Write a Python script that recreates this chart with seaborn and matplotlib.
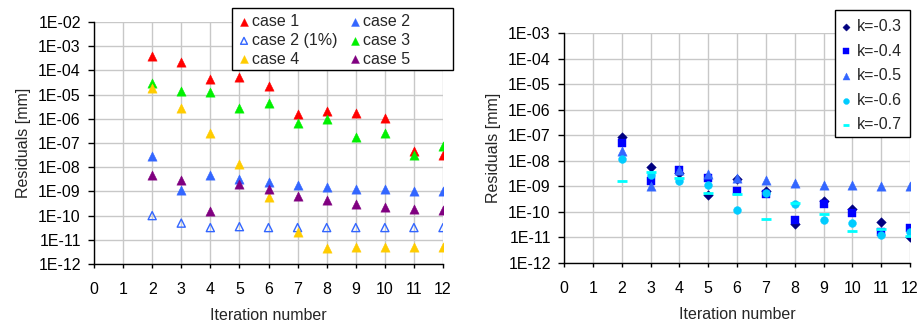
import numpy as np
import pandas as pd
import matplotlib
matplotlib.use("Agg")
import matplotlib.pyplot as plt
import seaborn as sns
from matplotlib.patches import Rectangle
from matplotlib.ticker import FixedLocator, FuncFormatter, NullLocator

# ---------------- data ----------------
iters = list(range(2, 13))

case1 = [4.1e-4, 2.2e-4, 4.4e-5, 5.2e-5, 2.2e-5, 1.6e-6, 2.2e-6, 1.8e-6, 1.1e-6, 4.5e-8, 3.3e-8]
case2 = [2.8e-8, 1.1e-9, 4.6e-9, 3.2e-9, 2.4e-9, 1.8e-9, 1.5e-9, 1.3e-9, 1.2e-9, 1.07e-9, 1.07e-9]
case2_1pct = [1.0e-10, 4.9e-11, 3.2e-11, 3.5e-11, 3.2e-11, 3.2e-11, 3.2e-11, 3.2e-11, 3.2e-11, 3.2e-11, 3.2e-11]
case3 = [3.0e-5, 1.35e-5, 1.23e-5, 2.8e-6, 4.5e-6, 6.8e-7, 1.0e-6, 1.85e-7, 2.6e-7, 3.3e-8, 7.2e-8]
case4 = [1.9e-5, 2.8e-6, 2.6e-7, 1.35e-8, 5.9e-10, 2.2e-11, 4.6e-12, 5e-12, 5e-12, 5e-12, 5e-12]
case5 = [4.6e-9, 3.0e-9, 1.6e-10, 2.0e-9, 1.2e-9, 6.6e-10, 4.3e-10, 3.0e-10, 2.2e-10, 1.9e-10, 1.75e-10]

k03 = [8.3e-8, 5.9e-9, 3.3e-9, 4.6e-10, 1.9e-9, 6.8e-10, 3.4e-11, 2.7e-10, 1.25e-10, 3.9e-11, 1.0e-11]
k04 = [5.1e-8, 1.65e-9, 4.4e-9, 2.2e-9, 6.3e-10, 4.8e-10, 5.0e-11, 2.1e-10, 8.7e-11, 1.7e-11, 2.3e-11]
k05 = [2.5e-8, 1.05e-9, 4.2e-9, 3.0e-9, 2.2e-9, 1.7e-9, 1.3e-9, 1.1e-9, 1.1e-9, 1.03e-9, 1.03e-9]
k06 = [1.15e-8, 2.9e-9, 1.6e-9, 1.1e-9, 1.2e-10, 5.6e-10, 2.1e-10, 4.9e-11, 3.8e-11, 1.3e-11, 1.7e-11]
k07 = [1.65e-9, 3.8e-9, 2.1e-9, 5.5e-10, 5.0e-10, 5.1e-11, 2.2e-10, 8.6e-11, 1.8e-11, 2.1e-11, 1.1e-11]

x_ticks = list(range(0, 13))
left_exps = list(range(-12, -1))
right_exps = list(range(-12, -2))

# ---------------- style ----------------
sns.set_theme(style="white")
plt.rcParams['font.family'] = ['Liberation Sans', 'DejaVu Sans']
FS = 11.5
W, H = 921.0, 325.0

fig = plt.figure(figsize=(9.21, 3.25), dpi=100)
axL = fig.add_axes([94/W, 1-264/H, (443-94)/W, (264-22)/H])
axR = fig.add_axes([564/W, 1-263/H, (910-564)/W, (263-33)/H])


def plot_series(ax, y, label, color, marker, size, open_=False):
    df = pd.DataFrame({"it": iters, "res": y})
    if open_:
        sns.scatterplot(data=df, x="it", y="res", ax=ax, marker=marker, s=size,
                        facecolors="none", edgecolor=color, linewidth=1.0, label=label)
    elif marker == "_":
        sns.scatterplot(data=df, x="it", y="res", ax=ax, marker=marker, s=size,
                        color=color, linewidth=2.0, label=label)
    else:
        sns.scatterplot(data=df, x="it", y="res", ax=ax, marker=marker, s=size,
                        color=color, edgecolor=color, linewidth=0.3, label=label)


def fmt(v, pos):
    e = int(round(np.log10(v)))
    return "1E%s%02d" % ("-" if e < 0 else "+", abs(e))


def style_axis(ax, exps):
    ax.set_yscale("log")
    ax.set_ylim(10.0**exps[0], 10.0**exps[-1])
    ax.set_xlim(0, 12)
    ax.xaxis.set_major_locator(FixedLocator(x_ticks))
    ax.yaxis.set_major_locator(FixedLocator([10.0**e for e in exps]))
    ax.yaxis.set_minor_locator(NullLocator())
    ax.yaxis.set_major_formatter(FuncFormatter(fmt))
    ax.grid(True, color="#c8c8c8", linewidth=1.0)
    ax.set_axisbelow(True)
    for s in ["top", "right"]:
        ax.spines[s].set_visible(False)
    for s in ["left", "bottom"]:
        ax.spines[s].set_color("black")
        ax.spines[s].set_linewidth(1.0)
    ax.tick_params(axis="both", which="major", direction="out", width=1.0,
                   color="black", labelsize=FS, labelcolor="black",
                   left=True, bottom=True)
    ax.tick_params(axis="y", length=4.5, pad=5)
    ax.tick_params(axis="x", length=3, pad=10)
    ax.set_xlabel("Iteration number", fontsize=FS, labelpad=8)
    ax.set_ylabel("Residuals [mm]", fontsize=FS, labelpad=5)


def legend_box(ax, x0, y0, x1, y1):
    r = Rectangle((x0/W, 1-y1/H), (x1-x0)/W, (y1-y0)/H, transform=fig.transFigure,
                  facecolor="white", edgecolor="black", linewidth=1.0,
                  clip_on=False, zorder=4.9)
    ax.add_artist(r)


# left chart
plot_series(axL, case1, "case 1", "#ff0000", "^", 45)
plot_series(axL, case2, "case 2", "#3366ff", "^", 45)
plot_series(axL, case2_1pct, "case 2 (1%)", "#3366ff", "^", 34, open_=True)
plot_series(axL, case3, "case 3", "#00f000", "^", 45)
plot_series(axL, case4, "case 4", "#ffcc00", "^", 45)
plot_series(axL, case5, "case 5", "#800080", "^", 45)
style_axis(axL, left_exps)
hL, lL = axL.get_legend_handles_labels()
order = [0, 2, 4, 1, 3, 5]  # row-wise reading order in two columns
legL = axL.legend([hL[i] for i in order], [lL[i] for i in order], ncol=2,
                  loc="upper left", bbox_to_anchor=(237.6/W, 1-14.5/H),
                  bbox_transform=fig.transFigure, frameon=False,
                  fontsize=FS, handletextpad=0.1, columnspacing=0.72,
                  labelspacing=0.22, borderpad=0, handlelength=0.8,
                  markerscale=0.85, borderaxespad=0)
legL.set_zorder(5)
legend_box(axL, 232, 8, 453, 70)

# right chart
plot_series(axR, k03, "k=-0.3", "#000080", "D", 24)
plot_series(axR, k04, "k=-0.4", "#0000ff", "s", 28)
plot_series(axR, k05, "k=-0.5", "#3366ff", "^", 45)
plot_series(axR, k06, "k=-0.6", "#00ccff", "o", 32)
plot_series(axR, k07, "k=-0.7", "#00ffff", "_", 45)
style_axis(axR, right_exps)
legR = axR.legend(ncol=1, loc="upper left", bbox_to_anchor=(839.6/W, 1-19/H),
                  bbox_transform=fig.transFigure, frameon=False,
                  fontsize=FS, handletextpad=0.29, labelspacing=0.6,
                  borderpad=0, handlelength=0.8, markerscale=0.75,
                  borderaxespad=0)
legR.set_zorder(5)
legend_box(axR, 835, 10, 910, 137)

fig.savefig("out.png", dpi=100, facecolor="white")
